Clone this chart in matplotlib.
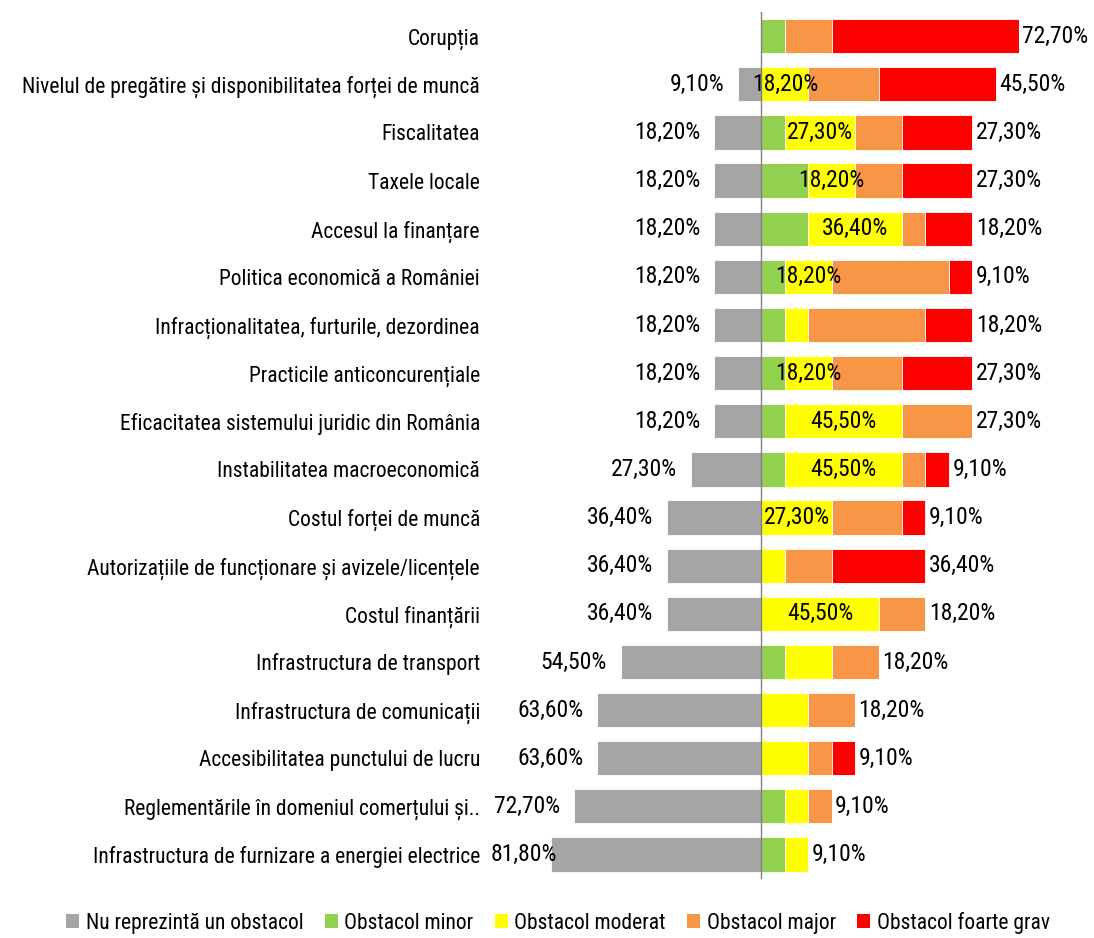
import matplotlib
matplotlib.use("Agg")
import matplotlib.pyplot as plt
from matplotlib.patches import Patch
import numpy as np

plt.rcParams['font.family'] = ['Roboto Condensed', 'DejaVu Sans']

categories = [
    "Corupția",
    "Nivelul de pregătire și disponibilitatea forței de muncă",
    "Fiscalitatea",
    "Taxele locale",
    "Accesul la finanțare",
    "Politica economică a României",
    "Infracționalitatea, furturile, dezordinea",
    "Practicile anticoncurențiale",
    "Eficacitatea sistemului juridic din România",
    "Instabilitatea macroeconomică",
    "Costul forței de muncă",
    "Autorizațiile de funcționare și avizele/licențele",
    "Costul finanțării",
    "Infrastructura de transport",
    "Infrastructura de comunicații",
    "Accesibilitatea punctului de lucru",
    "Reglementările în domeniul comerțului și..",
    "Infrastructura de furnizare a energiei electrice",
]

nu_obstacol = [0, 9.1, 18.2, 18.2, 18.2, 18.2, 18.2, 18.2, 18.2, 27.3, 36.4, 36.4, 36.4, 54.5, 63.6, 63.6, 72.7, 81.8]
minor       = [9.1, 0, 9.1, 18.2, 18.2, 9.1, 9.1, 9.1, 9.1, 9.1, 0, 0, 0, 9.1, 0, 0, 9.1, 9.1]
moderat     = [0, 18.2, 27.3, 18.2, 36.4, 18.2, 9.1, 18.2, 45.5, 45.5, 27.3, 9.1, 45.5, 18.2, 18.2, 18.2, 9.1, 9.1]
major       = [18.2, 27.3, 18.2, 18.2, 9.1, 45.5, 45.5, 27.3, 27.3, 9.1, 27.3, 18.2, 18.2, 18.2, 18.2, 9.1, 9.1, 0]
grav        = [72.7, 45.5, 27.3, 27.3, 18.2, 9.1, 18.2, 27.3, 0, 9.1, 9.1, 36.4, 0, 0, 0, 9.1, 0, 0]
label_moderat = [False, True, True, True, True, True, False, True, True, True, True, False, True, False, False, False, False, False]

series_names = ["Nu reprezintă un obstacol", "Obstacol minor", "Obstacol moderat",
                "Obstacol major", "Obstacol foarte grav"]
colors = ["#A5A5A5", "#92D050", "#FFFF00", "#F79646", "#FF0000"]

def fmt(v):
    return f"{v:.2f}%".replace(".", ",")

fig = plt.figure(figsize=(10.94, 9.38), dpi=100)
ax = fig.add_axes([503.6 / 1094, 1 - 878.6 / 938, 515.4 / 1094, (878.6 - 12.1) / 938])

n = len(categories)
y = np.arange(n)
h = 0.71

gray = np.array(nu_obstacol)
ax.barh(y, -gray, left=0, height=h, color=colors[0], edgecolor="white", linewidth=0.6)

left = np.zeros(n)
right_series = [minor, moderat, major, grav]
for s, c in zip(right_series, colors[1:]):
    vals = np.array(s)
    ax.barh(y, vals, left=left, height=h, color=c, edgecolor="white", linewidth=0.6)
    left = left + vals

fs = 15.5
fn = 17
for i in range(n):
    if gray[i] > 0:
        # very long bars: the label sits slightly inside the bar end, as in the original
        off = 5 if gray[i] > 80 else -10
        ax.annotate(fmt(gray[i]), xy=(-gray[i], y[i]), xytext=(off, 0), textcoords="offset points",
                    ha="right", va="center", fontsize=fn, annotation_clip=False)
    if label_moderat[i]:
        xm = minor[i] + moderat[i] / 2
        ax.text(xm, y[i], fmt(moderat[i]), ha="center", va="center", fontsize=fn)
    last = 0
    for s in right_series:
        if s[i] > 0:
            last = s[i]
    ax.annotate(fmt(last), xy=(left[i], y[i]), xytext=(2.5, 0), textcoords="offset points",
                ha="left", va="center", fontsize=fn, annotation_clip=False)

ax.set_xlim(-100, 100)
ax.set_ylim(n - 0.5, -0.5)
ax.set_yticks(y)
ax.set_yticklabels(categories, fontsize=fs)
ax.tick_params(axis="y", length=0, pad=17)
ax.set_xticks([])
for sp in ax.spines.values():
    sp.set_visible(False)
ax.axvline(0, color="#808080", linewidth=1.0)

handles = [Patch(facecolor=c, edgecolor="none") for c in colors]
fig.legend(handles, series_names, loc="lower center", bbox_to_anchor=(0.51, -0.016), ncol=5,
           frameon=False, fontsize=15.5, handlelength=0.6, handleheight=0.6, handletextpad=0.3,
           columnspacing=1.0)

fig.savefig("out.png", dpi=100)
